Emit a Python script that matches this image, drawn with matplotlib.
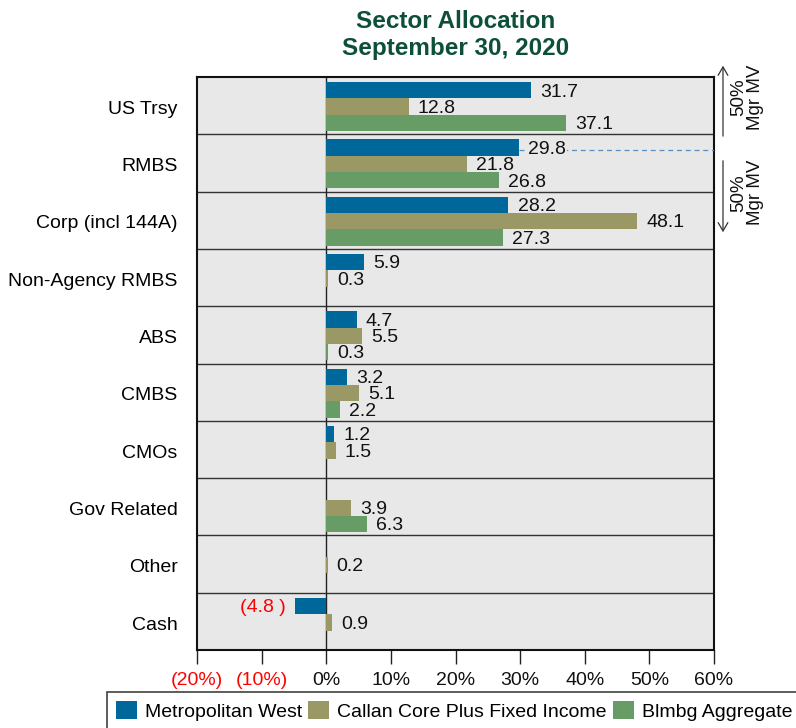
import numpy as np
import matplotlib
matplotlib.use("Agg")
import matplotlib.pyplot as plt
from matplotlib.patches import Patch

plt.rcParams['font.family'] = ['Liberation Sans', 'DejaVu Sans']

# Sector weights (% of market value); NaN where a portfolio holds nothing
categories = ["US Trsy", "RMBS", "Corp (incl 144A)", "Non-Agency RMBS", "ABS",
              "CMBS", "CMOs", "Gov Related", "Other", "Cash"]
metwest = [31.7, 29.8, 28.2, 5.9, 4.7, 3.2, 1.2, np.nan, np.nan, -4.8]
callan = [12.8, 21.8, 48.1, 0.3, 5.5, 5.1, 1.5, 3.9, 0.2, 0.9]
blmbg = [37.1, 26.8, 27.3, np.nan, 0.3, 2.2, np.nan, 6.3, np.nan, np.nan]
series_names = ["Metropolitan West", "Callan Core Plus Fixed Income", "Blmbg Aggregate"]
xticks = [-20, -10, 0, 10, 20, 30, 40, 50, 60]

colors = ["#00679a", "#9a9966", "#679c67"]
bg = "#e8e8e8"
fs = 14

fig = plt.figure(figsize=(7.96, 7.28), dpi=100)
ax = fig.add_axes([197 / 796, 1 - 650 / 728, 517 / 796, 573 / 728])
ax.set_facecolor(bg)

n = len(categories)
bar_h = 0.285
top_pad = 0.09
rows = np.arange(n)

for j, (vals, col) in enumerate(zip([metwest, callan, blmbg], colors)):
    yc = rows + top_pad + bar_h / 2 + j * bar_h
    for y, v in zip(yc, vals):
        if np.isnan(v):
            continue
        ax.barh(y, v, height=bar_h, color=col, zorder=3, linewidth=0)
        if v < 0:
            ax.annotate(f"({abs(v):.1f} )", (v, y + 0.03), xytext=(-6.5, 0),
                        textcoords="offset points", ha="right", va="center",
                        color="red", fontsize=fs, zorder=2)
        else:
            kw = {}
            if j == 0 and categories[int(y)] == "RMBS":
                kw = dict(bbox=dict(boxstyle="square,pad=0.05", fc=bg, ec="none"))
            ax.annotate(f"{v:.1f}", (v, y + 0.03), xytext=(6.5, 0),
                        textcoords="offset points", ha="left", va="center",
                        fontsize=fs, color="#111111", zorder=4, **kw)

# Dashed reference line running from the RMBS manager bar to the right edge
rmbs_y = 1 + top_pad + bar_h / 2
ax.plot([metwest[1], 60], [rmbs_y + 0.04, rmbs_y + 0.04], ls=(0, (4, 3)),
        color="#5a8fbf", lw=0.9, zorder=3.5)

# Row separators and zero line
for b in range(1, n):
    ax.axhline(b, color="#333333", lw=1.0, zorder=2)
ax.axvline(0, color="#222222", lw=1.0, zorder=2.5)

ax.set_xlim(-20, 60)
ax.set_ylim(n, 0)
ax.set_yticks(rows + 0.53)
ax.set_yticklabels(categories, fontsize=fs)
ax.tick_params(axis="y", length=0, pad=14)

ax.set_xticks(xticks)
ax.set_xticklabels([f"({abs(t)}%)" if t < 0 else f"{t}%" for t in xticks], fontsize=fs)
for lbl, t in zip(ax.get_xticklabels(), xticks):
    lbl.set_color("red" if t < 0 else "#111111")
ax.tick_params(axis="x", direction="out", length=10, width=1, pad=6, color="#222222")

for s in ax.spines.values():
    s.set_linewidth(1.5)
    s.set_color("#111111")

# Side brackets marking half of the manager's market value
tr = ax.get_yaxis_transform()
arrow_kw = dict(arrowstyle="->,head_length=0.6,head_width=0.35", color="#333333", lw=0.9)
ax.annotate("", xy=(1.0174, -0.245), xytext=(1.0174, 1.08), xycoords=tr, textcoords=tr,
            arrowprops=arrow_kw, annotation_clip=False)
ax.annotate("", xy=(1.0174, 2.757), xytext=(1.0174, 1.414), xycoords=tr, textcoords=tr,
            arrowprops=arrow_kw, annotation_clip=False)
for yc in (0.35, 2.02):
    ax.text(1.064, yc, "50%\nMgr MV", transform=tr, rotation=90, ha="center", va="center",
            fontsize=13.5, linespacing=1.0, color="#111111", clip_on=False)

# Title
title_col = "#0d4f3b"
fig.text(455.5 / 796, 1 - 21 / 728, "Sector Allocation", ha="center", va="center",
         fontsize=17.5, fontweight="bold", color=title_col)
fig.text(455.5 / 796, 1 - 49 / 728, "September 30, 2020", ha="center", va="center",
         fontsize=17.5, fontweight="bold", color=title_col)

handles = [Patch(facecolor=c, edgecolor="none") for c in colors]
leg = fig.legend(handles, series_names, loc="upper left",
                 bbox_to_anchor=(107 / 796, 1 - 692 / 728), ncol=3, fontsize=fs,
                 frameon=True, fancybox=False, edgecolor="#111111",
                 handlelength=1.1, handleheight=1.1, handletextpad=0.4,
                 columnspacing=0.3, borderpad=0.45, borderaxespad=0)
leg.get_frame().set_linewidth(1.2)

fig.savefig("out.png", dpi=100)
